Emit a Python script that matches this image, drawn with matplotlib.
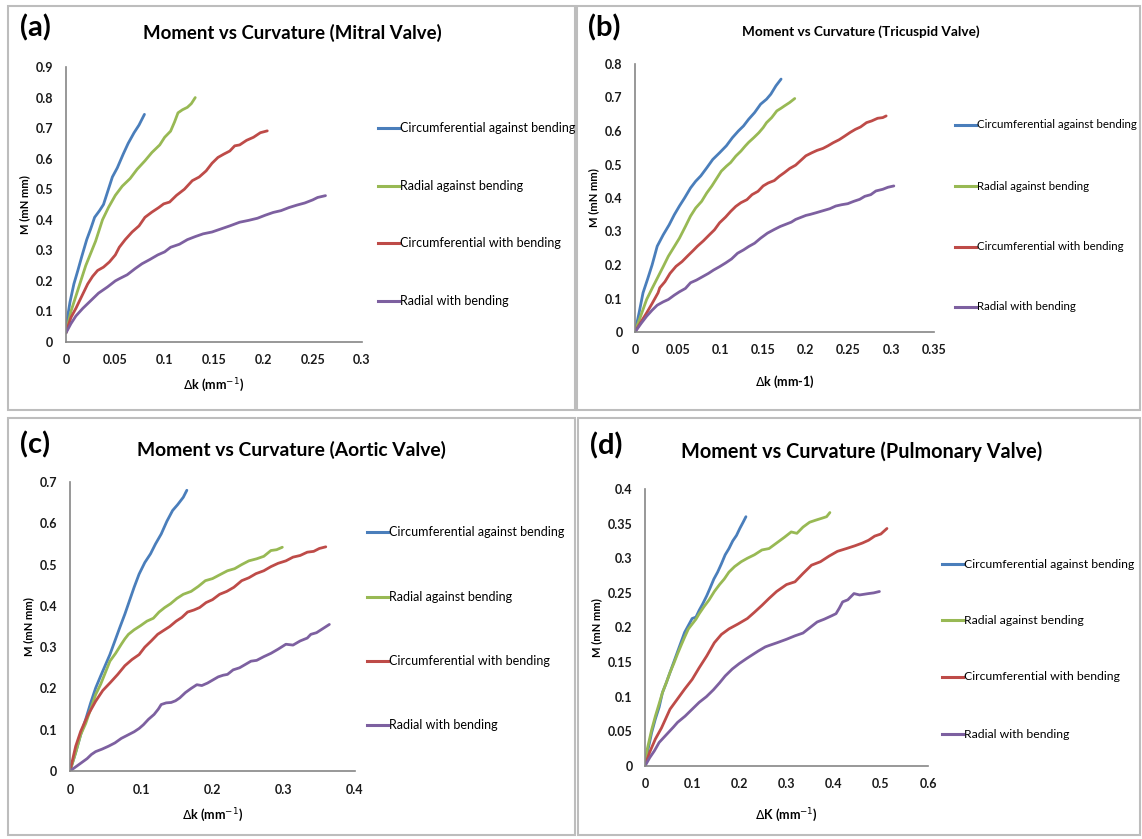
import matplotlib.pyplot as plt
from matplotlib.lines import Line2D
from matplotlib.patches import Rectangle

plt.rcParams['font.family'] = ['Lato', 'DejaVu Sans']

W, H = 1142, 839

# ---- data (x = curvature change, y = moment) ----
# (a) Mitral valve
a_circ_against_x = [0, 0.004, 0.008, 0.012, 0.016, 0.021, 0.025, 0.029, 0.034, 0.038, 0.043, 0.047, 0.052, 0.058, 0.063, 0.069, 0.074, 0.0795]
a_circ_against_y = [0.05, 0.13, 0.19, 0.234, 0.28, 0.335, 0.37, 0.408, 0.43, 0.45, 0.5, 0.54, 0.57, 0.615, 0.65, 0.685, 0.71, 0.745]
a_rad_against_x = [0, 0.005, 0.01, 0.015, 0.02, 0.025, 0.03, 0.037, 0.043, 0.05, 0.057, 0.065, 0.072, 0.08, 0.087, 0.095, 0.1, 0.106, 0.11, 0.1135, 0.118, 0.123, 0.127, 0.131]
a_rad_against_y = [0.03, 0.1, 0.15, 0.2, 0.25, 0.29, 0.33, 0.4, 0.44, 0.48, 0.51, 0.535, 0.565, 0.593, 0.62, 0.645, 0.67, 0.69, 0.72, 0.75, 0.76, 0.768, 0.78, 0.8]
a_circ_with_x = [0, 0.005, 0.01, 0.016, 0.022, 0.027, 0.032, 0.038, 0.044, 0.05, 0.054, 0.06, 0.067, 0.074, 0.08, 0.087, 0.094, 0.099, 0.105, 0.112, 0.12, 0.128, 0.135, 0.142, 0.148, 0.154, 0.16, 0.166, 0.171, 0.176, 0.183, 0.19, 0.197, 0.204]
a_circ_with_y = [0.03, 0.08, 0.11, 0.15, 0.19, 0.215, 0.234, 0.245, 0.262, 0.285, 0.31, 0.335, 0.36, 0.38, 0.408, 0.425, 0.44, 0.452, 0.458, 0.48, 0.5, 0.528, 0.54, 0.56, 0.585, 0.604, 0.615, 0.625, 0.642, 0.645, 0.66, 0.67, 0.685, 0.691]
a_rad_with_x = [0, 0.005, 0.01, 0.017, 0.025, 0.033, 0.042, 0.05, 0.054, 0.062, 0.07, 0.077, 0.085, 0.093, 0.1, 0.106, 0.115, 0.123, 0.131, 0.139, 0.148, 0.157, 0.166, 0.176, 0.185, 0.194, 0.202, 0.21, 0.218, 0.226, 0.234, 0.242, 0.25, 0.255, 0.263]
a_rad_with_y = [0.03, 0.06, 0.085, 0.11, 0.135, 0.16, 0.18, 0.2, 0.207, 0.22, 0.24, 0.256, 0.27, 0.285, 0.295, 0.31, 0.32, 0.335, 0.345, 0.354, 0.36, 0.37, 0.38, 0.392, 0.398, 0.405, 0.415, 0.424, 0.43, 0.44, 0.448, 0.455, 0.465, 0.473, 0.479]

# (b) Tricuspid valve
b_circ_against_x = [0, 0.005, 0.0094, 0.015, 0.02, 0.026, 0.033, 0.04, 0.046, 0.052, 0.058, 0.065, 0.071, 0.077, 0.084, 0.091, 0.099, 0.107, 0.114, 0.121, 0.127, 0.133, 0.14, 0.147, 0.154, 0.159, 0.165, 0.171]
b_circ_against_y = [0, 0.06, 0.117, 0.16, 0.2, 0.256, 0.29, 0.32, 0.35, 0.376, 0.4, 0.43, 0.45, 0.466, 0.49, 0.515, 0.535, 0.556, 0.58, 0.6, 0.615, 0.635, 0.655, 0.68, 0.695, 0.71, 0.735, 0.755]
b_rad_against_x = [0, 0.007, 0.0136, 0.02, 0.026, 0.033, 0.039, 0.046, 0.052, 0.059, 0.065, 0.071, 0.078, 0.084, 0.09, 0.096, 0.101, 0.107, 0.112, 0.118, 0.124, 0.129, 0.133, 0.139, 0.145, 0.15, 0.154, 0.16, 0.166, 0.171, 0.175, 0.181, 0.187]
b_rad_against_y = [0, 0.05, 0.097, 0.13, 0.16, 0.195, 0.226, 0.255, 0.28, 0.315, 0.346, 0.37, 0.39, 0.415, 0.436, 0.46, 0.48, 0.495, 0.506, 0.525, 0.54, 0.555, 0.566, 0.58, 0.595, 0.61, 0.625, 0.64, 0.66, 0.668, 0.675, 0.685, 0.697]
b_circ_with_x = [0, 0.007, 0.0136, 0.02, 0.027, 0.029, 0.035, 0.041, 0.048, 0.055, 0.062, 0.068, 0.073, 0.08, 0.087, 0.093, 0.099, 0.106, 0.112, 0.118, 0.124, 0.131, 0.137, 0.144, 0.15, 0.156, 0.163, 0.169, 0.175, 0.181, 0.188, 0.194, 0.2, 0.207, 0.213, 0.22, 0.226, 0.232, 0.239, 0.245, 0.252, 0.258, 0.264, 0.271, 0.277, 0.284, 0.29, 0.294]
b_circ_with_y = [0, 0.03, 0.057, 0.085, 0.117, 0.132, 0.15, 0.175, 0.196, 0.21, 0.228, 0.243, 0.256, 0.272, 0.29, 0.305, 0.326, 0.343, 0.36, 0.375, 0.386, 0.395, 0.41, 0.42, 0.436, 0.445, 0.452, 0.465, 0.476, 0.488, 0.498, 0.512, 0.526, 0.535, 0.542, 0.548, 0.556, 0.565, 0.574, 0.584, 0.596, 0.605, 0.612, 0.625, 0.63, 0.638, 0.64, 0.645]
b_rad_with_x = [0, 0.007, 0.0136, 0.02, 0.026, 0.033, 0.039, 0.046, 0.052, 0.059, 0.065, 0.072, 0.079, 0.086, 0.092, 0.099, 0.106, 0.113, 0.12, 0.127, 0.133, 0.14, 0.147, 0.155, 0.163, 0.17, 0.177, 0.183, 0.188, 0.194, 0.2, 0.205, 0.212, 0.22, 0.228, 0.235, 0.242, 0.249, 0.256, 0.263, 0.269, 0.276, 0.282, 0.29, 0.296, 0.303]
b_rad_with_y = [0, 0.025, 0.047, 0.065, 0.08, 0.09, 0.097, 0.11, 0.12, 0.13, 0.147, 0.155, 0.165, 0.175, 0.185, 0.195, 0.206, 0.218, 0.235, 0.245, 0.255, 0.265, 0.28, 0.295, 0.306, 0.315, 0.322, 0.328, 0.336, 0.342, 0.348, 0.351, 0.356, 0.362, 0.368, 0.376, 0.38, 0.383, 0.39, 0.396, 0.405, 0.41, 0.421, 0.426, 0.432, 0.436]

# (c) Aortic valve
c_circ_against_x = [0, 0.008, 0.015, 0.022, 0.029, 0.036, 0.043, 0.05, 0.056, 0.063, 0.07, 0.077, 0.083, 0.09, 0.097, 0.105, 0.113, 0.12, 0.128, 0.136, 0.144, 0.151, 0.159, 0.164]
c_circ_against_y = [0, 0.045, 0.088, 0.125, 0.165, 0.201, 0.23, 0.258, 0.282, 0.315, 0.348, 0.38, 0.41, 0.445, 0.477, 0.505, 0.526, 0.55, 0.574, 0.605, 0.631, 0.645, 0.663, 0.68]
c_rad_against_x = [0, 0.008, 0.015, 0.022, 0.029, 0.036, 0.043, 0.05, 0.056, 0.064, 0.072, 0.077, 0.082, 0.09, 0.099, 0.108, 0.117, 0.125, 0.133, 0.141, 0.15, 0.159, 0.17, 0.18, 0.19, 0.2, 0.211, 0.221, 0.231, 0.241, 0.251, 0.262, 0.272, 0.282, 0.29, 0.298]
c_rad_against_y = [0, 0.045, 0.088, 0.115, 0.15, 0.185, 0.21, 0.24, 0.266, 0.285, 0.307, 0.32, 0.331, 0.342, 0.352, 0.363, 0.37, 0.385, 0.396, 0.405, 0.418, 0.428, 0.435, 0.447, 0.461, 0.466, 0.476, 0.485, 0.49, 0.5, 0.509, 0.514, 0.52, 0.534, 0.536, 0.542]
c_circ_with_x = [0, 0.008, 0.015, 0.025, 0.036, 0.046, 0.057, 0.067, 0.077, 0.087, 0.097, 0.105, 0.114, 0.123, 0.131, 0.14, 0.149, 0.157, 0.165, 0.174, 0.182, 0.191, 0.2, 0.21, 0.22, 0.23, 0.241, 0.251, 0.261, 0.272, 0.282, 0.292, 0.303, 0.313, 0.323, 0.333, 0.342, 0.35, 0.359]
c_circ_with_y = [0, 0.06, 0.096, 0.135, 0.169, 0.195, 0.215, 0.234, 0.255, 0.27, 0.282, 0.3, 0.315, 0.331, 0.34, 0.35, 0.363, 0.372, 0.385, 0.39, 0.396, 0.408, 0.415, 0.428, 0.435, 0.445, 0.461, 0.468, 0.478, 0.485, 0.495, 0.503, 0.509, 0.518, 0.522, 0.53, 0.532, 0.539, 0.543]
c_rad_with_x = [0, 0.012, 0.024, 0.03, 0.036, 0.045, 0.054, 0.063, 0.072, 0.081, 0.09, 0.097, 0.103, 0.11, 0.118, 0.124, 0.128, 0.135, 0.142, 0.148, 0.154, 0.162, 0.17, 0.178, 0.185, 0.193, 0.2, 0.208, 0.215, 0.221, 0.229, 0.238, 0.246, 0.254, 0.262, 0.272, 0.282, 0.292, 0.303, 0.313, 0.323, 0.333, 0.338, 0.346, 0.355, 0.364]
c_rad_with_y = [0, 0.015, 0.03, 0.04, 0.047, 0.053, 0.06, 0.068, 0.079, 0.087, 0.095, 0.103, 0.112, 0.125, 0.137, 0.15, 0.161, 0.165, 0.166, 0.17, 0.177, 0.19, 0.2, 0.209, 0.207, 0.213, 0.22, 0.228, 0.232, 0.234, 0.245, 0.25, 0.258, 0.266, 0.268, 0.277, 0.285, 0.295, 0.307, 0.305, 0.315, 0.322, 0.331, 0.335, 0.345, 0.355]

# (d) Pulmonary valve
d_circ_against_x = [0, 0.005, 0.01, 0.014, 0.022, 0.03, 0.037, 0.045, 0.053, 0.061, 0.069, 0.077, 0.084, 0.092, 0.1, 0.108, 0.115, 0.123, 0.131, 0.138, 0.146, 0.154, 0.162, 0.17, 0.178, 0.186, 0.194, 0.201, 0.208, 0.214]
d_circ_against_y = [0, 0.02, 0.035, 0.048, 0.068, 0.085, 0.106, 0.12, 0.135, 0.15, 0.165, 0.18, 0.193, 0.203, 0.213, 0.215, 0.225, 0.235, 0.246, 0.257, 0.27, 0.28, 0.292, 0.305, 0.314, 0.325, 0.333, 0.343, 0.352, 0.36]
d_rad_against_x = [0, 0.005, 0.01, 0.014, 0.022, 0.03, 0.037, 0.045, 0.053, 0.061, 0.069, 0.077, 0.084, 0.092, 0.1, 0.108, 0.115, 0.125, 0.136, 0.147, 0.158, 0.168, 0.178, 0.19, 0.204, 0.217, 0.232, 0.248, 0.263, 0.279, 0.295, 0.31, 0.322, 0.335, 0.349, 0.362, 0.376, 0.385, 0.392]
d_rad_against_y = [0, 0.025, 0.04, 0.052, 0.072, 0.09, 0.106, 0.12, 0.135, 0.148, 0.162, 0.175, 0.186, 0.198, 0.205, 0.212, 0.22, 0.23, 0.24, 0.252, 0.262, 0.27, 0.28, 0.288, 0.295, 0.3, 0.305, 0.312, 0.314, 0.322, 0.33, 0.338, 0.336, 0.345, 0.352, 0.355, 0.358, 0.36, 0.366]
d_circ_with_x = [0, 0.01, 0.022, 0.035, 0.053, 0.068, 0.084, 0.1, 0.115, 0.131, 0.147, 0.162, 0.178, 0.197, 0.217, 0.232, 0.248, 0.263, 0.279, 0.3, 0.318, 0.335, 0.353, 0.372, 0.39, 0.408, 0.427, 0.445, 0.461, 0.474, 0.487, 0.5, 0.513]
d_circ_with_y = [0, 0.02, 0.039, 0.055, 0.082, 0.096, 0.111, 0.125, 0.142, 0.159, 0.178, 0.19, 0.198, 0.205, 0.213, 0.222, 0.232, 0.242, 0.252, 0.262, 0.266, 0.278, 0.29, 0.295, 0.303, 0.31, 0.314, 0.318, 0.322, 0.326, 0.332, 0.335, 0.343]
d_rad_with_x = [0, 0.01, 0.02, 0.03, 0.045, 0.06, 0.069, 0.085, 0.1, 0.115, 0.13, 0.145, 0.158, 0.17, 0.185, 0.2, 0.215, 0.224, 0.24, 0.255, 0.263, 0.28, 0.3, 0.318, 0.335, 0.35, 0.365, 0.38, 0.396, 0.405, 0.412, 0.419, 0.43, 0.443, 0.455, 0.474, 0.485, 0.497]
d_rad_with_y = [0, 0.012, 0.022, 0.034, 0.045, 0.056, 0.063, 0.072, 0.082, 0.092, 0.1, 0.11, 0.12, 0.13, 0.14, 0.148, 0.155, 0.159, 0.166, 0.172, 0.174, 0.178, 0.183, 0.188, 0.192, 0.2, 0.208, 0.212, 0.217, 0.22, 0.228, 0.237, 0.24, 0.249, 0.247, 0.249, 0.25, 0.252]

series_names = ['Circumferential against bending', 'Radial against bending',
                'Circumferential with bending', 'Radial with bending']
colors = ['#4A7EBB', '#98B954', '#BE4B48', '#7D60A0']

panels = [
    dict(tag='(a)', title='Moment vs Curvature (Mitral Valve)', tsize=13.4, lsize=9,
         series=[(a_circ_against_x, a_circ_against_y), (a_rad_against_x, a_rad_against_y),
                 (a_circ_with_x, a_circ_with_y), (a_rad_with_x, a_rad_with_y)],
         xticks=[0, 0.05, 0.1, 0.15, 0.2, 0.25, 0.3], xlabels=['0', '0.05', '0.1', '0.15', '0.2', '0.25', '0.3'],
         yticks=[0, 0.1, 0.2, 0.3, 0.4, 0.5, 0.6, 0.7, 0.8, 0.9],
         ylabels=['0', '0.1', '0.2', '0.3', '0.4', '0.5', '0.6', '0.7', '0.8', '0.9'],
         xlabel=r'$\Delta$k (mm$^{-1}$)',
         box=(8, 6, 575, 410), ax=(66, 67, 362, 342), title_xy=(292, 33), tag_xy=(20, 28),
         xlab_y=385, leg_x=378, leg_y=[128, 186, 243, 301]),
    dict(tag='(b)', title='Moment vs Curvature (Tricuspid Valve)', tsize=9.8, lsize=8.3,
         series=[(b_circ_against_x, b_circ_against_y), (b_rad_against_x, b_rad_against_y),
                 (b_circ_with_x, b_circ_with_y), (b_rad_with_x, b_rad_with_y)],
         xticks=[0, 0.05, 0.1, 0.15, 0.2, 0.25, 0.3, 0.35],
         xlabels=['0', '0.05', '0.1', '0.15', '0.2', '0.25', '0.3', '0.35'],
         yticks=[0, 0.1, 0.2, 0.3, 0.4, 0.5, 0.6, 0.7, 0.8],
         ylabels=['0', '0.1', '0.2', '0.3', '0.4', '0.5', '0.6', '0.7', '0.8'],
         xlabel=r'$\Delta$k (mm-1)',
         box=(577, 6, 1140, 410), ax=(635, 64, 934, 332), title_xy=(861, 32), tag_xy=(588, 28),
         xlab_y=382, leg_x=955, leg_y=[125, 186, 247, 307]),
    dict(tag='(c)', title='Moment vs Curvature (Aortic Valve)', tsize=13.9, lsize=9,
         series=[(c_circ_against_x, c_circ_against_y), (c_rad_against_x, c_rad_against_y),
                 (c_circ_with_x, c_circ_with_y), (c_rad_with_x, c_rad_with_y)],
         xticks=[0, 0.1, 0.2, 0.3, 0.4], xlabels=['0', '0.1', '0.2', '0.3', '0.4'],
         yticks=[0, 0.1, 0.2, 0.3, 0.4, 0.5, 0.6, 0.7],
         ylabels=['0', '0.1', '0.2', '0.3', '0.4', '0.5', '0.6', '0.7'],
         xlabel=r'$\Delta$k (mm$^{-1}$)',
         box=(8, 418, 575, 835), ax=(70, 482, 355, 771), title_xy=(291, 450), tag_xy=(20, 445),
         xlab_y=815, leg_x=367, leg_y=[532, 597, 661, 725]),
    dict(tag='(d)', title='Moment vs Curvature (Pulmonary Valve)', tsize=14.3, lsize=8.8,
         series=[(d_circ_against_x, d_circ_against_y), (d_rad_against_x, d_rad_against_y),
                 (d_circ_with_x, d_circ_with_y), (d_rad_with_x, d_rad_with_y)],
         xticks=[0, 0.1, 0.2, 0.3, 0.4, 0.5, 0.6], xlabels=['0', '0.1', '0.2', '0.3', '0.4', '0.5', '0.6'],
         yticks=[0, 0.05, 0.1, 0.15, 0.2, 0.25, 0.3, 0.35, 0.4],
         ylabels=['0', '0.05', '0.1', '0.15', '0.2', '0.25', '0.3', '0.35', '0.4'],
         xlabel=r'$\Delta$K (mm$^{-1}$)',
         box=(578, 418, 1140, 835), ax=(645, 489, 928, 766), title_xy=(862, 452), tag_xy=(590, 446),
         xlab_y=815, leg_x=942, leg_y=[564, 620, 677, 734]),
]


def fx(x):
    return x / W


def fy(y):
    return 1 - y / H


fig = plt.figure(figsize=(W / 100, H / 100), dpi=100)

for p in panels:
    x0, y0, x1, y1 = p['box']
    fig.patches.append(Rectangle((fx(x0), fy(y1)), fx(x1 - x0), (y1 - y0) / H,
                                 transform=fig.transFigure, fill=False,
                                 edgecolor='#BDBDBD', linewidth=1.5))

    l, t, r, b = p['ax']
    ax = fig.add_axes([fx(l), fy(b), fx(r - l), (b - t) / H])
    for (xs, ys), c, name in zip(p['series'], colors, series_names):
        ax.plot(xs, ys, color=c, linewidth=2, label=name, solid_capstyle='round')

    ax.set_xlim(p['xticks'][0], p['xticks'][-1])
    ax.set_ylim(p['yticks'][0], p['yticks'][-1])
    ax.set_xticks(p['xticks'], p['xlabels'])
    ax.set_yticks(p['yticks'], p['ylabels'])
    ax.tick_params(length=0, labelsize=9, pad=9, colors='#1a1a1a')
    for lab in ax.get_xticklabels() + ax.get_yticklabels():
        lab.set_fontweight('bold')
    for s in ['top', 'right']:
        ax.spines[s].set_visible(False)
    for s in ['left', 'bottom']:
        ax.spines[s].set_color('#868686')
        ax.spines[s].set_linewidth(1.2)
    ax.set_ylabel('M (mN mm)', fontsize=8, fontweight='bold', labelpad=4)

    fig.text(fx((l + r) / 2), fy(p['xlab_y']), p['xlabel'], ha='center', va='center',
             fontsize=9, fontweight='bold')
    fig.text(fx(p['title_xy'][0]), fy(p['title_xy'][1]), p['title'], ha='center', va='center',
             fontsize=p['tsize'], fontweight='bold')
    fig.text(fx(p['tag_xy'][0]), fy(p['tag_xy'][1]), p['tag'], ha='left', va='center',
             fontsize=21, fontweight='bold')

    # legend drawn at the right of each chart, as in the source
    lx = p['leg_x']
    for ly, c, name in zip(p['leg_y'], colors, series_names):
        fig.lines.append(Line2D([fx(lx), fx(lx + 21)], [fy(ly), fy(ly)], transform=fig.transFigure,
                                color=c, linewidth=2.2))
        fig.text(fx(lx + 22), fy(ly), name, ha='left', va='center', fontsize=p['lsize'])

fig.savefig('out.png', dpi=100)
